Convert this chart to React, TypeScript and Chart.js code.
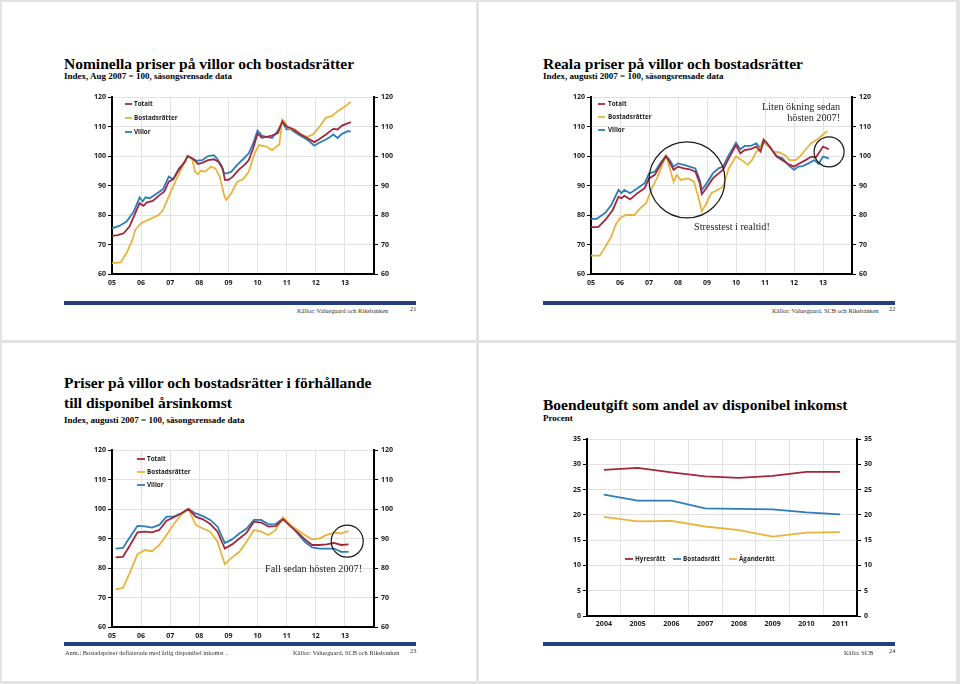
import React, { useEffect, useRef } from 'react';
import { Chart, registerables } from 'chart.js';
Chart.register(...registerables);

// ---------- Data ----------
const SERIES_LABELS = ['Totalt', 'Bostadsrätter', 'Villor'];
const YEAR_TICKS = ['05', '06', '07', '08', '09', '10', '11', '12', '13'];

// Nominal prices (decimal year, index)
const nomTotalt: [number, number][] = [
  [2005.0, 72.9], [2005.2, 73.2], [2005.4, 73.8], [2005.6, 76.1], [2005.8, 80.6], [2005.95, 84.0], [2006.08, 83.1],
  [2006.2, 84.3], [2006.4, 84.8], [2006.6, 86.5], [2006.8, 88.0], [2006.95, 91.3], [2007.1, 92.1], [2007.3, 95.3],
  [2007.5, 98.1], [2007.6, 100], [2007.8, 98.9], [2007.95, 97.3], [2008.1, 97.7], [2008.3, 98.6], [2008.5, 98.9],
  [2008.65, 98.1], [2008.8, 95.8], [2008.88, 91.9], [2009.0, 91.9], [2009.15, 93.0], [2009.35, 95.3], [2009.55, 97.0],
  [2009.7, 98.6], [2009.85, 102.6], [2010.0, 107.6], [2010.15, 106.2], [2010.3, 106.5], [2010.5, 106.9], [2010.7, 107.8],
  [2010.85, 111.8], [2011.0, 110.0], [2011.2, 109.2], [2011.4, 107.8], [2011.7, 106.1], [2011.95, 104.7], [2012.1, 105.6],
  [2012.35, 107.3], [2012.6, 109.2], [2012.75, 109.0], [2012.9, 110.3], [2013.2, 111.5],
];
const nomBostad: [number, number][] = [
  [2005.0, 63.7], [2005.3, 63.9], [2005.5, 67.1], [2005.7, 71.6], [2005.8, 75.0], [2006.0, 77.2], [2006.3, 78.6],
  [2006.6, 80.0], [2006.75, 81.7], [2007.0, 87.4], [2007.2, 91.9], [2007.45, 97.0], [2007.6, 100], [2007.75, 99.2],
  [2007.85, 94.7], [2007.95, 93.8], [2008.05, 95.0], [2008.2, 94.7], [2008.4, 96.4], [2008.55, 95.8], [2008.7, 93.0],
  [2008.85, 86.8], [2008.92, 85.1], [2009.1, 87.4], [2009.3, 91.3], [2009.5, 92.1], [2009.7, 94.7], [2009.9, 100.9],
  [2010.05, 103.7], [2010.3, 103.2], [2010.5, 102.0], [2010.65, 103.2], [2010.75, 103.9], [2010.85, 112.4],
  [2010.95, 111.2], [2011.1, 109.0], [2011.3, 109.0], [2011.5, 107.3], [2011.7, 106.5], [2011.9, 107.3], [2012.1, 109.5],
  [2012.35, 113.0], [2012.55, 113.5], [2012.75, 115.2], [2012.95, 116.4], [2013.2, 118.3],
];
const nomVillor: [number, number][] = [
  [2005.0, 75.5], [2005.25, 76.3], [2005.5, 77.8], [2005.75, 81.2], [2005.95, 86.0], [2006.05, 84.6], [2006.15, 86.0],
  [2006.3, 85.7], [2006.5, 87.0], [2006.75, 88.7], [2006.95, 93.0], [2007.1, 92.1], [2007.3, 95.8], [2007.5, 97.7],
  [2007.6, 100], [2007.75, 99.2], [2007.9, 98.4], [2008.1, 98.6], [2008.3, 100], [2008.5, 100.3], [2008.6, 99.2],
  [2008.75, 97.0], [2008.85, 94.1], [2008.95, 94.1], [2009.1, 94.7], [2009.3, 97.0], [2009.5, 98.9], [2009.7, 100.9],
  [2009.85, 104.3], [2010.0, 108.6], [2010.15, 106.9], [2010.3, 106.5], [2010.5, 106.1], [2010.7, 108.6],
  [2010.85, 111.5], [2011.0, 109.0], [2011.15, 109.0], [2011.4, 107.3], [2011.7, 105.6], [2011.95, 103.5],
  [2012.1, 104.4], [2012.35, 105.6], [2012.5, 106.5], [2012.6, 107.3], [2012.75, 106.1], [2012.9, 107.5],
  [2013.1, 108.4], [2013.2, 108.3],
];

// Real prices
const realTotalt: [number, number][] = [
  [2005.0, 75.9], [2005.25, 75.9], [2005.5, 78.4], [2005.75, 81.7], [2005.95, 86.2], [2006.05, 85.7], [2006.15, 86.5],
  [2006.35, 85.3], [2006.6, 87.4], [2006.85, 89.1], [2007.0, 92.4], [2007.2, 93.6], [2007.4, 97.0], [2007.58, 100],
  [2007.7, 98.1], [2007.85, 95.3], [2008.0, 96.4], [2008.2, 95.8], [2008.4, 95.5], [2008.6, 94.7], [2008.75, 90.8],
  [2008.82, 87.1], [2008.95, 88.7], [2009.2, 92.4], [2009.4, 94.1], [2009.55, 95.3], [2009.75, 99.2], [2010.0, 103.7],
  [2010.15, 100.9], [2010.3, 102.0], [2010.5, 102.3], [2010.7, 103.2], [2010.85, 101.5], [2010.95, 105.5],
  [2011.05, 104.6], [2011.2, 102.6], [2011.4, 99.8], [2011.6, 98.6], [2011.8, 97.3], [2012.0, 96.4], [2012.15, 97.3],
  [2012.4, 98.6], [2012.6, 99.8], [2012.75, 99.5], [2012.85, 100.9], [2013.0, 103.2], [2013.2, 102.3],
];
const realBostad: [number, number][] = [
  [2005.0, 66.2], [2005.3, 66.2], [2005.5, 69.3], [2005.7, 72.7], [2005.85, 76.7], [2006.0, 78.9], [2006.2, 80.0],
  [2006.5, 80.0], [2006.7, 82.3], [2006.9, 84.0], [2007.1, 89.1], [2007.3, 93.0], [2007.5, 98.1], [2007.6, 100],
  [2007.75, 94.7], [2007.85, 91.3], [2007.95, 93.6], [2008.1, 91.9], [2008.35, 92.4], [2008.55, 91.3], [2008.7, 86.2],
  [2008.82, 81.2], [2008.95, 83.4], [2009.15, 87.4], [2009.4, 88.7], [2009.55, 89.6], [2009.75, 95.8], [2010.0, 99.8],
  [2010.2, 98.6], [2010.4, 97.0], [2010.55, 98.6], [2010.7, 101.5], [2010.8, 102.0], [2010.95, 105.6], [2011.1, 103.5],
  [2011.3, 101.5], [2011.5, 101.2], [2011.7, 100.2], [2011.85, 98.6], [2012.05, 98.6], [2012.2, 99.8], [2012.4, 102.2],
  [2012.6, 104.4], [2012.8, 105.6], [2013.0, 107.3], [2013.15, 108.4],
];
const realVillor: [number, number][] = [
  [2005.0, 78.7], [2005.2, 78.7], [2005.5, 80.8], [2005.7, 83.4], [2005.95, 88.5], [2006.05, 87.4], [2006.15, 88.5],
  [2006.35, 87.4], [2006.6, 89.1], [2006.85, 90.8], [2007.0, 94.1], [2007.2, 94.7], [2007.4, 97.7], [2007.58, 100],
  [2007.7, 98.9], [2007.85, 96.4], [2008.0, 97.5], [2008.2, 97.0], [2008.4, 96.4], [2008.6, 95.8], [2008.75, 91.9],
  [2008.82, 88.5], [2008.95, 90.2], [2009.2, 94.1], [2009.4, 95.8], [2009.55, 96.4], [2009.75, 100.3], [2010.0, 104.5],
  [2010.15, 102.3], [2010.3, 103.4], [2010.5, 103.4], [2010.7, 104.3], [2010.85, 102.6], [2010.97, 104.8],
  [2011.2, 102.6], [2011.4, 100.0], [2011.6, 99.2], [2011.8, 97.0], [2012.0, 95.3], [2012.15, 96.4], [2012.3, 96.6],
  [2012.5, 97.5], [2012.7, 98.6], [2012.85, 97.3], [2013.0, 99.8], [2013.2, 99.2],
];

// Prices relative to disposable income (quarterly)
const incQuarters = [
  2005.125, 2005.375, 2005.625, 2005.875, 2006.125, 2006.375, 2006.625, 2006.875, 2007.125, 2007.375, 2007.625,
  2007.875, 2008.125, 2008.375, 2008.625, 2008.875, 2009.125, 2009.375, 2009.625, 2009.875, 2010.125, 2010.375,
  2010.625, 2010.875, 2011.125, 2011.375, 2011.625, 2011.875, 2012.125, 2012.375, 2012.625, 2012.875, 2013.125,
];
const incTotalt = [
  83.6, 83.8, 87.8, 92.1, 92.3, 92.1, 92.9, 96.0, 97.2, 98.5, 100, 97.4, 96.5, 94.9, 92.3, 86.6, 88.0, 90.0, 92.0,
  95.7, 95.4, 94.0, 94.2, 96.6, 94.2, 92.1, 89.7, 87.8, 87.8, 88.0, 88.5, 87.8, 88.0,
];
const incBostad = [
  72.8, 73.2, 78.7, 84.7, 86.1, 85.7, 87.8, 91.2, 94.9, 98.0, 100, 94.6, 93.4, 92.3, 88.9, 81.3, 83.6, 85.5, 88.9,
  92.9, 92.3, 91.2, 92.9, 97.2, 94.6, 92.9, 91.2, 89.7, 90.0, 91.2, 92.0, 91.7, 92.6,
];
const incVillor = [
  86.6, 86.8, 90.6, 94.3, 94.1, 93.7, 94.6, 97.4, 97.4, 98.5, 100, 98.5, 97.6, 96.3, 94.0, 88.5, 89.7, 91.7, 93.4,
  96.3, 96.3, 94.8, 94.9, 96.8, 94.6, 91.7, 88.9, 87.0, 86.6, 86.6, 86.6, 85.5, 85.5,
];

// Housing cost as share of disposable income
const costYears = ['2004', '2005', '2006', '2007', '2008', '2009', '2010', '2011'];
const costLabels = ['Hyresrätt', 'Bostadsrätt', 'Äganderätt'];
const costHyres = [28.9, 29.3, 28.4, 27.6, 27.3, 27.7, 28.5, 28.5];
const costBostad = [24.0, 22.8, 22.8, 21.3, 21.2, 21.1, 20.5, 20.1];
const costAgande = [19.6, 18.7, 18.8, 17.7, 17.0, 15.7, 16.5, 16.6];

// ---------- Styles ----------
const RED = '#a4263b';
const GOLD = '#e9b43c';
const BLUE = '#2d7db9';
const GRID = '#e2e2e2';
const TICK_FONT = { family: '"Open Sans"', size: 7, weight: 'bold' as const };
const SERIF = '"Liberation Serif", "Times New Roman", serif';

type Geo = { left: number; top: number; w: number; h: number; l: number; r: number; t: number; b: number };

const decorPlugin = {
  id: 'decor',
  afterDatasetsDraw(chart: any, _args: any, o: any) {
    const { ctx, chartArea: ca } = chart;
    const xs = chart.scales.x;
    const ys = chart.scales.y;
    ctx.save();
    if (o.legend) {
      const L = o.legend;
      chart.data.datasets.forEach((ds: any, i: number) => {
        const lx = ca.left + L.x[i];
        const ly = ca.top + L.y[i];
        ctx.strokeStyle = ds.borderColor;
        ctx.lineWidth = 1.8;
        ctx.beginPath();
        ctx.moveTo(lx, ly);
        ctx.lineTo(lx + L.len, ly);
        ctx.stroke();
        ctx.fillStyle = '#222';
        ctx.font = 'bold 6.3px "Open Sans"';
        ctx.textAlign = 'left';
        ctx.textBaseline = 'middle';
        ctx.fillText(ds.label, lx + L.len + L.gap, ly);
      });
    }
    (o.circles || []).forEach((c: any) => {
      ctx.beginPath();
      ctx.arc(xs.getPixelForValue(c.x), ys.getPixelForValue(c.y), c.r, 0, Math.PI * 2);
      ctx.strokeStyle = '#1a1a1a';
      ctx.lineWidth = 1.2;
      ctx.stroke();
    });
    (o.texts || []).forEach((t: any) => {
      ctx.font = `${t.size}px ${SERIF}`;
      ctx.fillStyle = '#222';
      ctx.textAlign = t.align;
      ctx.textBaseline = 'middle';
      ctx.fillText(t.text, xs.getPixelForValue(t.x), ys.getPixelForValue(t.y));
    });
    ctx.restore();
  },
};

function yAxes(g: Geo, min: number, max: number, step: number) {
  const leftW = g.l - g.left;
  const rightW = g.left + g.w - g.r;
  const common = {
    type: 'linear' as const,
    min,
    max,
    ticks: { stepSize: step, color: '#1a1a1a', font: TICK_FONT },
    border: { color: '#000', width: 2 },
  };
  return {
    y: {
      ...common,
      position: 'left' as const,
      ticks: { ...common.ticks, padding: 2 },
      grid: { color: GRID, tickColor: '#000', tickLength: 4 },
      afterFit: (s: any) => { s.width = leftW; },
    },
    y2: {
      ...common,
      position: 'right' as const,
      ticks: { ...common.ticks, padding: 3 },
      grid: { drawOnChartArea: false, color: GRID, tickColor: '#000', tickLength: 4 },
      afterFit: (s: any) => { s.width = rightW; },
    },
  };
}

function lineDs(label: string, data: any[], color: string) {
  return {
    label,
    data,
    borderColor: color,
    backgroundColor: color,
    borderWidth: 1.8,
    pointRadius: 0,
    tension: 0,
    fill: false,
    yAxisID: 'y',
  };
}

function timeChart(g: Geo, series: [number, number][][], decor: any) {
  const bottomH = g.top + g.h - g.b;
  return {
    type: 'line',
    data: {
      datasets: [
        lineDs(SERIES_LABELS[0], series[0], RED),
        lineDs(SERIES_LABELS[1], series[1], GOLD),
        lineDs(SERIES_LABELS[2], series[2], BLUE),
      ],
    },
    options: {
      animation: false,
      responsive: false,
      devicePixelRatio: 1,
      layout: { padding: { top: g.t - g.top, left: 0, right: 0, bottom: 0 } },
      plugins: { legend: { display: false }, tooltip: { enabled: false }, decor },
      scales: {
        x: {
          type: 'linear',
          min: 2005,
          max: 2014,
          ticks: {
            stepSize: 1,
            autoSkip: false,
            maxRotation: 0,
            color: '#1a1a1a',
            font: TICK_FONT,
            padding: 5,
            callback: (v: number) => YEAR_TICKS[Math.round(v) - 2005] ?? '',
          },
          grid: { color: GRID, drawTicks: false },
          border: { color: '#000', width: 2 },
          afterFit: (s: any) => { s.height = bottomH; },
        },
        ...yAxes(g, 60, 120, 10),
      },
    },
    plugins: [decorPlugin],
  };
}

function costChart(g: Geo) {
  const bottomH = g.top + g.h - g.b;
  return {
    type: 'line',
    data: {
      labels: costYears,
      datasets: [
        lineDs(costLabels[0], costHyres, RED),
        lineDs(costLabels[1], costBostad, BLUE),
        lineDs(costLabels[2], costAgande, GOLD),
      ],
    },
    options: {
      animation: false,
      responsive: false,
      devicePixelRatio: 1,
      layout: { padding: { top: g.t - g.top, left: 0, right: 0, bottom: 0 } },
      plugins: {
        legend: { display: false },
        tooltip: { enabled: false },
        decor: { legend: { x: [38, 86, 142], y: [120, 120, 120], len: 8, gap: 2 } },
      },
      scales: {
        x: {
          type: 'category',
          offset: true,
          ticks: { color: '#1a1a1a', font: TICK_FONT, padding: 4, maxRotation: 0, autoSkip: false },
          grid: { color: GRID, drawTicks: false, offset: true },
          border: { color: '#000', width: 2 },
          afterFit: (s: any) => { s.height = bottomH; },
        },
        ...yAxes(g, 0, 35, 5),
      },
    },
    plugins: [decorPlugin],
  };
}

const GEO_NOM: Geo = { left: 60, top: 85, w: 360, h: 215, l: 112, r: 374, t: 97, b: 274 };
const GEO_REAL: Geo = { left: 539, top: 85, w: 360, h: 215, l: 591, r: 852, t: 97, b: 274 };
const GEO_INC: Geo = { left: 60, top: 438, w: 360, h: 215, l: 112, r: 374, t: 450, b: 627 };
const GEO_COST: Geo = { left: 535, top: 427, w: 370, h: 215, l: 587, r: 857, t: 439, b: 616 };

function ChartBox({ geo, make }: { geo: Geo; make: () => any }) {
  const ref = useRef<HTMLCanvasElement | null>(null);
  useEffect(() => {
    if (!ref.current) return;
    const chart = new Chart(ref.current, make());
    return () => chart.destroy();
  }, []);
  return (
    <canvas
      ref={ref}
      width={geo.w}
      height={geo.h}
      style={{ position: 'absolute', left: geo.left, top: geo.top, width: geo.w, height: geo.h }}
    />
  );
}

function Txt({ x, y, size, bold, children, color }: any) {
  return (
    <div
      style={{
        position: 'absolute',
        left: x,
        top: y,
        fontFamily: SERIF,
        fontSize: size,
        lineHeight: 1,
        fontWeight: bold ? 'bold' : 'normal',
        whiteSpace: 'nowrap',
        color: color || '#000',
      }}
    >
      {children}
    </div>
  );
}

function Bar({ x, y }: { x: number; y: number }) {
  return <div style={{ position: 'absolute', left: x, top: y, width: 352, height: 4, background: '#22407c' }} />;
}

function Panel({ x, y, w, h }: any) {
  return <div style={{ position: 'absolute', left: x, top: y, width: w, height: h, background: '#fff' }} />;
}

export default function App() {
  useEffect(() => {
    document.body.style.margin = '0';
  }, []);
  const tbase = (b: number, s: number) => b - 0.8375 * s;
  return (
    <div style={{ position: 'relative', width: 960, height: 684, background: '#e3e3e3', overflow: 'hidden' }}>
      <Panel x={2} y={2} w={474} h={338} />
      <Panel x={479} y={2} w={477} h={338} />
      <Panel x={2} y={343} w={474} h={338} />
      <Panel x={479} y={343} w={477} h={338} />

      {/* Top-left */}
      <Txt x={64} y={tbase(68.5, 15.5)} size={15.5} bold>Nominella priser på villor och bostadsrätter</Txt>
      <Txt x={64} y={tbase(79.3, 9)} size={9} bold>Index, Aug 2007 = 100, säsongsrensade data</Txt>
      <ChartBox geo={GEO_NOM} make={() => timeChart(GEO_NOM, [nomTotalt, nomBostad, nomVillor], {
        legend: { x: [13, 13, 13], y: [7, 21, 35], len: 7, gap: 2 },
      })} />
      <Bar x={64} y={301} />
      <Txt x={297} y={tbase(313, 6.4)} size={6.4} color="#333">Källor: Valueguard och Riksbanken</Txt>
      <Txt x={410} y={tbase(311, 6.4)} size={6.4} color="#333">21</Txt>

      {/* Top-right */}
      <Txt x={543} y={tbase(68.5, 15.5)} size={15.5} bold>Reala priser på villor och bostadsrätter</Txt>
      <Txt x={543} y={tbase(79.3, 9)} size={9} bold>Index, augusti 2007 = 100, säsongsrensade data</Txt>
      <ChartBox geo={GEO_REAL} make={() => timeChart(GEO_REAL, [realTotalt, realBostad, realVillor], {
        legend: { x: [7, 7, 7], y: [7, 20, 33], len: 7, gap: 3 },
        circles: [
          { x: 2008.31, y: 91.9, r: 38 },
          { x: 2013.21, y: 101.4, r: 15 },
        ],
        texts: [
          { text: 'Liten ökning sedan', x: 2013.59, y: 116.5, size: 10.2, align: 'right' },
          { text: 'hösten 2007!', x: 2013.59, y: 112.8, size: 10.2, align: 'right' },
          { text: 'Stresstest i realtid!', x: 2009.86, y: 75.9, size: 10.2, align: 'center' },
        ],
      })} />
      <Bar x={543} y={301} />
      <Txt x={772} y={tbase(313, 6.4)} size={6.4} color="#333">Källor: Valueguard, SCB och Riksbanken</Txt>
      <Txt x={889} y={tbase(311, 6.4)} size={6.4} color="#333">22</Txt>

      {/* Bottom-left */}
      <Txt x={64} y={tbase(388.3, 15.5)} size={15.5} bold>Priser på villor och bostadsrätter i förhållande</Txt>
      <Txt x={64} y={tbase(407.7, 15.5)} size={15.5} bold>till disponibel årsinkomst</Txt>
      <Txt x={64} y={tbase(423.3, 9)} size={9} bold>Index, augusti 2007 = 100, säsongsrensade data</Txt>
      <ChartBox geo={GEO_INC} make={() => timeChart(GEO_INC, [
        incQuarters.map((q, i) => [q, incTotalt[i]] as [number, number]),
        incQuarters.map((q, i) => [q, incBostad[i]] as [number, number]),
        incQuarters.map((q, i) => [q, incVillor[i]] as [number, number]),
      ], {
        legend: { x: [25, 25, 25], y: [9, 22, 35], len: 8, gap: 2 },
        circles: [{ x: 2013.08, y: 89.1, r: 16 }],
        texts: [{ text: 'Fall sedan hösten 2007!', x: 2013.59, y: 79.6, size: 10.2, align: 'right' }],
      })} />
      <Bar x={64} y={642} />
      <Txt x={65} y={tbase(655, 6.4)} size={6.4} color="#333">Anm.: Bostadspriser deflaterade med årlig disponibel inkomst .</Txt>
      <Txt x={293} y={tbase(655, 6.4)} size={6.4} color="#333">Källor: Valueguard, SCB och Riksbanken</Txt>
      <Txt x={410} y={tbase(653, 6.4)} size={6.4} color="#333">23</Txt>

      {/* Bottom-right */}
      <Txt x={543} y={tbase(410, 15.5)} size={15.5} bold>Boendeutgift som andel av disponibel inkomst</Txt>
      <Txt x={543} y={tbase(421.7, 9)} size={9} bold>Procent</Txt>
      <ChartBox geo={GEO_COST} make={() => costChart(GEO_COST)} />
      <Bar x={543} y={642} />
      <Txt x={844} y={tbase(655, 6.4)} size={6.4} color="#333">Källa: SCB</Txt>
      <Txt x={889} y={tbase(653, 6.4)} size={6.4} color="#333">24</Txt>
    </div>
  );
}
